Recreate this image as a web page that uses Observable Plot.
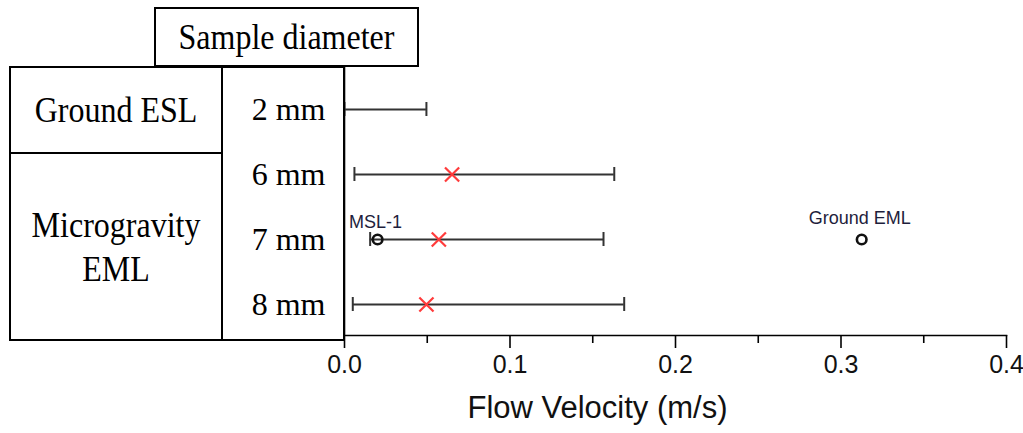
<!DOCTYPE html>
<html>
<head>
<meta charset="utf-8">
<script src="https://cdn.jsdelivr.net/npm/d3@7"></script>
<script src="https://cdn.jsdelivr.net/npm/@observablehq/plot@0.6"></script>
<style>
  html, body { margin: 0; padding: 0; background: #fff; }
  #wrap { position: relative; width: 1023px; height: 433px; overflow: hidden; }
  #wrap svg { position: absolute; left: 0; top: 0; }
  .box {
    position: absolute; box-sizing: border-box; border: 2px solid #000;
    display: flex; align-items: center; justify-content: center; text-align: center;
    font-family: "Liberation Serif", "Times New Roman", serif; font-size: 32px; line-height: 40px;
    color: #000; background: transparent; pointer-events: none;
  }
  .box span { display: inline-block; transform: scaleY(1.1); }
</style>
</head>
<body>
<div id="wrap"></div>
<script>
// ---- data ----
const sizes = ["2 mm", "6 mm", "7 mm", "8 mm"];
const lows  = [0, 0.006, 0.0155, 0.005];
const highs = [0.0495, 0.163, 0.1565, 0.169];

const meanSizes = ["6 mm", "7 mm", "8 mm"];
const meanValues = [0.065, 0.057, 0.0495];

const refNames = ["MSL-1", "Ground EML"];
const refSizes = ["7 mm", "7 mm"];
const refValues = [0.02, 0.3125];

const majorTicks = [0, 0.1, 0.2, 0.3, 0.4];
const minorTicks = [0.05, 0.15, 0.25, 0.35];

const groupLabels = ["Ground ESL", "Microgravity<br>EML"];
const headerLabel = "Sample diameter";
const xLabel = "Flow Velocity (m/s)";

// ---- tables ----
const bars = sizes.map((s, i) => ({size: s, lo: lows[i], hi: highs[i]}));
const means = meanSizes.map((s, i) => ({size: s, v: meanValues[i]}));
const refs = refNames.map((n, i) => ({name: n, size: refSizes[i], v: refValues[i]}));

const sans = "Liberation Sans, Arial, sans-serif";
const serif = "Liberation Serif, Times New Roman, serif";

const chart = Plot.plot({
  width: 1023,
  height: 433,
  marginLeft: 344,
  marginRight: 17,
  marginTop: 66,
  marginBottom: 98,
  style: {fontFamily: sans, background: "transparent"},
  x: {domain: [0, 0.4]},
  y: {type: "point", domain: sizes, range: [108, 304], padding: 0},
  marks: [
    Plot.axisY({tickSize: 0, tickPadding: 19, fontSize: 32, fontFamily: serif, fill: "#000", label: null}),
    Plot.axisX({ticks: minorTicks, tickSize: 8, tickFormat: () => "", label: null, strokeWidth: 1.6, stroke: "#000"}),
    Plot.axisX({ticks: majorTicks, tickSize: 13, tickPadding: 7, tickFormat: d => d.toFixed(1),
                fontSize: 25, fontFamily: sans, fill: "#111", label: null, strokeWidth: 1.6, stroke: "#000"}),
    Plot.frame({anchor: "bottom", stroke: "#000", strokeWidth: 1.6}),
    Plot.ruleX([0], {stroke: "#000", strokeWidth: 1.6}),
    Plot.ruleY(bars, {y: "size", x1: "lo", x2: "hi", stroke: "#333", strokeWidth: 2}),
    Plot.ruleX(bars, {x: "lo", y1: "size", y2: "size", stroke: "#333", strokeWidth: 2, insetTop: -7, insetBottom: -7}),
    Plot.ruleX(bars, {x: "hi", y1: "size", y2: "size", stroke: "#333", strokeWidth: 2, insetTop: -7, insetBottom: -7}),
    Plot.dot(means, {x: "v", y: "size", symbol: "times", r: 6.5, stroke: "#ff3b3b", strokeWidth: 2.2}),
    Plot.dot(refs, {x: "v", y: "size", r: 4.8, stroke: "#111", strokeWidth: 2.6, fill: "none"}),
    Plot.text(refs.filter(d => d.name === "MSL-1"), {x: "v", y: "size", text: "name", dy: -17, dx: -2,
      fontSize: 18, fontFamily: sans, fill: "#1e1e3c"}),
    Plot.text(refs.filter(d => d.name === "Ground EML"), {x: "v", y: "size", text: "name", dy: -21, dx: -2,
      fontSize: 18, fontFamily: sans, fill: "#1e1e3c"}),
    Plot.text([xLabel], {frameAnchor: "bottom-left", dx: 253, dy: 82, textAnchor: "middle",
      fontSize: 31, fontFamily: sans, fill: "#111"})
  ]
});

const wrap = document.getElementById("wrap");
wrap.appendChild(chart);

function box(left, top, w, h, html) {
  const d = document.createElement("div");
  d.className = "box";
  d.style.left = left + "px"; d.style.top = top + "px";
  d.style.width = w + "px"; d.style.height = h + "px";
  if (html) d.innerHTML = "<span>" + html + "</span>";
  wrap.appendChild(d);
}
box(154, 7, 265, 60, headerLabel);
box(9, 66, 214, 88, groupLabels[0]);
box(9, 152, 214, 189, groupLabels[1]);
box(221, 66, 124, 275, "");
</script>
</body>
</html>
